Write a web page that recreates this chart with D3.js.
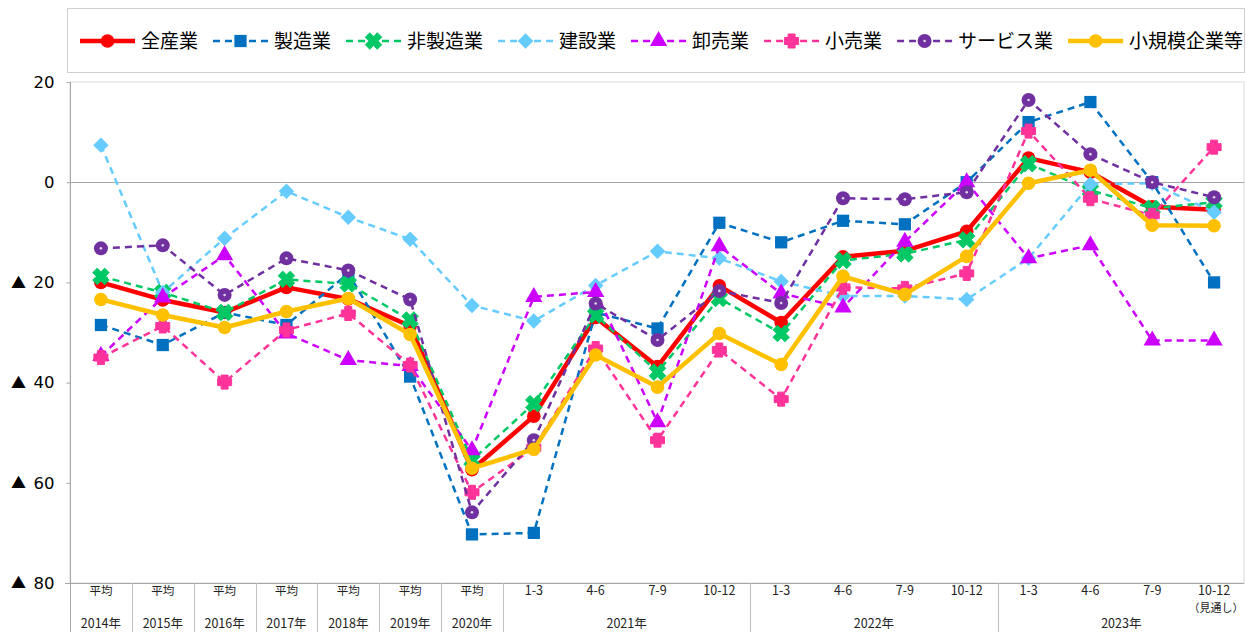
<!DOCTYPE html>
<html lang="ja">
<head>
<meta charset="utf-8">
<script src="https://cdn.jsdelivr.net/npm/d3@7"></script>
<style>
  html, body { margin: 0; padding: 0; background: #fff; }
  svg { display: block; }
</style>
</head>
<body>
<svg id="chart" width="1246" height="632"></svg>
<script>
// Period labels (first row under the plot) and year groups (second row)
const periodLabels = ["平均","平均","平均","平均","平均","平均","平均",
  "1-3","4-6","7-9","10-12",
  "1-3","4-6","7-9","10-12",
  "1-3","4-6","7-9","10-12"];
const yearLabels = ["2014年","2015年","2016年","2017年","2018年","2019年","2020年","2021年","2022年","2023年"];
const yearSpans  = [1,1,1,1,1,1,1,4,4,4];
const forecastNote = "（見通し）";

const seriesNames = ["全産業","製造業","非製造業","建設業","卸売業","小売業","サービス業","小規模企業等"];

// Business condition DI by sector
const allIndustries   = [-20, -23.5, -26, -21, -23.3, -28.7, -57.4, -46.7, -27, -36.8, -20.7, -28, -14.9, -13.7, -9.8, 4.8, 2, -4.9, -5.5];
const manufacturing   = [-28.5, -32.5, -26, -28.5, -18.2, -38.8, -70.3, -70, -26, -29.2, -8.1, -12, -7.7, -8.4, 0, 12, 16, 0, -20];
const nonManufacturing= [-18.8, -22, -26, -19.4, -20.3, -27.5, -55.5, -44.2, -26.5, -37.9, -23.2, -30.2, -15.6, -14.3, -11.5, 3.7, -1.6, -5.2, -4];
const construction    = [7.4, -22, -11.2, -1.8, -7, -11.4, -24.6, -27.7, -20.6, -13.8, -15.2, -19.8, -22.7, -22.7, -23.4, -15.2, -0.4, -0.2, -6];
const wholesale       = [-34.7, -23, -14.6, -30.2, -35.5, -36.7, -53.5, -22.9, -21.9, -47.9, -12.8, -22.2, -25, -11.9, 0, -15.2, -12.6, -31.6, -31.6];
const retail          = [-35, -28.7, -39.9, -29.5, -26.2, -36.5, -61.9, -53, -33.2, -51.5, -33.5, -43.3, -21, -21.2, -18.2, 10.2, -3.3, -6.6, 7];
const services        = [-13.2, -12.6, -22.5, -15.2, -17.6, -23.4, -65.9, -51.5, -24.2, -31.5, -21.7, -24.1, -3.2, -3.4, -2, 16.4, 5.6, 0, -3];
const smallBusiness   = [-23.4, -26.5, -29, -25.8, -23.2, -30.4, -57.1, -53.3, -34.5, -40.9, -30.2, -36.4, -18.8, -22.4, -14.8, -0.2, 2.4, -8.6, -8.7];

const yTicks = [20, 0, -20, -40, -60, -80];

// Visual style per series
const styles = [
  {color:"#FF0000", dashed:false, width:4.5, marker:"circle"},
  {color:"#0070C0", dashed:true,  width:2.5, marker:"square"},
  {color:"#00C864", dashed:true,  width:2.5, marker:"x"},
  {color:"#66CCFF", dashed:true,  width:2.5, marker:"diamond"},
  {color:"#CC00FF", dashed:true,  width:2.5, marker:"triangle"},
  {color:"#FF3399", dashed:true,  width:2.5, marker:"plus"},
  {color:"#7030A0", dashed:true,  width:2.5, marker:"ring"},
  {color:"#FFC000", dashed:false, width:4.5, marker:"circle"}
];
const seriesValues = [allIndustries, manufacturing, nonManufacturing, construction, wholesale, retail, services, smallBusiness];

const svg = d3.select("#chart");
const plot = {left:70, right:1245, top:82, bottom:583};
const tableBottom = 632;

const x = d3.scaleBand().domain(d3.range(periodLabels.length)).range([plot.left, plot.right]).padding(0);
const cx = i => x(i) + x.bandwidth()/2;
const y = d3.scaleLinear().domain([-80, 20]).range([plot.bottom, plot.top]);

const jpFont = "'Noto Sans CJK JP', 'Noto Sans', sans-serif";

// Plot frame
svg.append("rect")
  .attr("x", plot.left).attr("y", plot.top)
  .attr("width", plot.right - plot.left - 1).attr("height", plot.bottom - plot.top)
  .attr("fill", "none").attr("stroke", "#d9d9d9").attr("stroke-width", 1);

// Zero line
svg.append("line")
  .attr("x1", plot.left).attr("x2", plot.right - 1)
  .attr("y1", Math.round(y(0)) + 0.5).attr("y2", Math.round(y(0)) + 0.5)
  .attr("stroke", "#a6a6a6").attr("stroke-width", 1.2);

// Y axis
const yAxis = d3.axisLeft(y).tickValues(yTicks).tickSize(4).tickPadding(12)
  .tickFormat(d => Math.abs(d));
const gy = svg.append("g").attr("transform", `translate(${plot.left + 0.5},0)`).call(yAxis);
gy.select(".domain").remove();
gy.selectAll(".tick line").attr("stroke", "#a6a6a6");
gy.selectAll(".tick text")
  .attr("font-family", "'DejaVu Sans', Verdana, sans-serif")
  .attr("font-size", 16.5).attr("fill", "#000");
gy.selectAll(".tick").filter(d => d < 0).append("text")
  .attr("x", -(plot.left - 18)).attr("dy", "0.32em")
  .attr("text-anchor", "middle")
  .attr("font-family", jpFont).attr("font-size", 15).attr("fill", "#000")
  .text("▲");

// Left axis line running through the category table
svg.append("line")
  .attr("x1", plot.left + 0.5).attr("x2", plot.left + 0.5)
  .attr("y1", plot.top).attr("y2", tableBottom)
  .attr("stroke", "#a6a6a6").attr("stroke-width", 1);
// Bottom axis line
svg.append("line")
  .attr("x1", plot.left - 5).attr("x2", plot.right - 1)
  .attr("y1", plot.bottom + 0.5).attr("y2", plot.bottom + 0.5)
  .attr("stroke", "#a6a6a6").attr("stroke-width", 1);

// Category table: period labels, year groups, separators
const gx = svg.append("g").attr("font-family", jpFont).attr("fill", "#222");
gx.selectAll("text.period").data(periodLabels).join("text")
  .attr("class", "period")
  .attr("x", (d, i) => cx(i)).attr("y", 595)
  .attr("text-anchor", "middle")
  .attr("font-size", d => d === "平均" ? 11.5 : 12.5)
  .text(d => d);
gx.append("text")
  .attr("x", cx(periodLabels.length - 1) + 2).attr("y", 612)
  .attr("text-anchor", "middle").attr("font-size", 11)
  .text(forecastNote);

let start = 0;
const groupBounds = [];
yearLabels.forEach((lab, k) => {
  const s = start, e = start + yearSpans[k] - 1;
  groupBounds.push({lab, s, e});
  start += yearSpans[k];
});
gx.selectAll("text.year").data(groupBounds).join("text")
  .attr("class", "year")
  .attr("x", d => (x(d.s) + x(d.e) + x.bandwidth()) / 2)
  .attr("y", 628)
  .attr("text-anchor", "middle").attr("font-size", 12.5)
  .text(d => d.lab);
svg.selectAll("line.sep").data(groupBounds.slice(0, -1)).join("line")
  .attr("class", "sep")
  .attr("x1", d => Math.round(x(d.e) + x.bandwidth()) + 0.5)
  .attr("x2", d => Math.round(x(d.e) + x.bandwidth()) + 0.5)
  .attr("y1", plot.bottom).attr("y2", tableBottom)
  .attr("stroke", "#bfbfbf").attr("stroke-width", 1);

// Chunky plus shape: total span s, arm thickness w
function plusPath(s, w) {
  const a = s / 2, b = w / 2;
  return `M${-b},${-a}H${b}V${-b}H${a}V${b}H${b}V${a}H${-b}V${b}H${-a}V${-b}H${-b}Z`;
}

// Marker drawing
function drawMarker(g, type, color, px, py) {
  const t = `translate(${px},${py})`;
  if (type === "circle") {
    g.append("circle").attr("cx", px).attr("cy", py).attr("r", 6.8).attr("fill", color);
  } else if (type === "ring") {
    g.append("circle").attr("cx", px).attr("cy", py).attr("r", 7).attr("fill", color);
    g.append("circle").attr("cx", px).attr("cy", py).attr("r", 1.3).attr("fill", "#fff").attr("opacity", 0.8);
  } else if (type === "square") {
    g.append("path").attr("transform", t).attr("d", d3.symbol(d3.symbolSquare, 150)()).attr("fill", color);
  } else if (type === "diamond") {
    g.append("path").attr("transform", t + " rotate(45)").attr("d", d3.symbol(d3.symbolSquare, 120)()).attr("fill", color);
  } else if (type === "triangle") {
    g.append("path").attr("transform", t).attr("d", d3.symbol(d3.symbolTriangle, 130)()).attr("fill", color);
  } else if (type === "plus") {
    g.append("path").attr("transform", t).attr("d", plusPath(14, 7))
      .attr("fill", color).attr("stroke", color).attr("stroke-width", 1).attr("stroke-linejoin", "round");
  } else if (type === "x") {
    g.append("path").attr("transform", t + " rotate(45)").attr("d", plusPath(17, 6.5))
      .attr("fill", color).attr("stroke", color).attr("stroke-width", 0.8).attr("stroke-linejoin", "round");
  }
}

// Series lines and markers (first series at the bottom, last on top)
const line = d3.line().x((d, i) => cx(i)).y(d => y(d));
seriesValues.forEach((vals, k) => {
  const st = styles[k];
  const g = svg.append("g").attr("class", "series");
  g.append("path")
    .attr("d", line(vals))
    .attr("fill", "none")
    .attr("stroke", st.color)
    .attr("stroke-width", st.width)
    .attr("stroke-linejoin", "round")
    .attr("stroke-dasharray", st.dashed ? "7,5" : null);
  vals.forEach((v, i) => drawMarker(g, st.marker, st.color, cx(i), y(v)));
});

// Legend
const legend = svg.append("g");
legend.append("rect")
  .attr("x", 67.5).attr("y", 8.5).attr("width", 1177).attr("height", 64)
  .attr("fill", "#fff").attr("stroke", "#d0d0d0").attr("stroke-width", 1);
let lx = 80;
const ly = 41;
seriesNames.forEach((name, k) => {
  const st = styles[k];
  const g = legend.append("g");
  g.append("line")
    .attr("x1", lx).attr("x2", lx + 55).attr("y1", ly).attr("y2", ly)
    .attr("stroke", st.color).attr("stroke-width", st.width)
    .attr("stroke-dasharray", st.dashed ? "7,5" : null);
  drawMarker(g, st.marker, st.color, lx + 27.5, ly);
  const txt = g.append("text")
    .attr("x", lx + 61).attr("y", ly).attr("dy", "0.35em")
    .attr("font-family", jpFont).attr("font-size", 19).attr("fill", "#000")
    .text(name);
  lx += 61 + txt.node().getComputedTextLength() + 15;
});
</script>
</body>
</html>
